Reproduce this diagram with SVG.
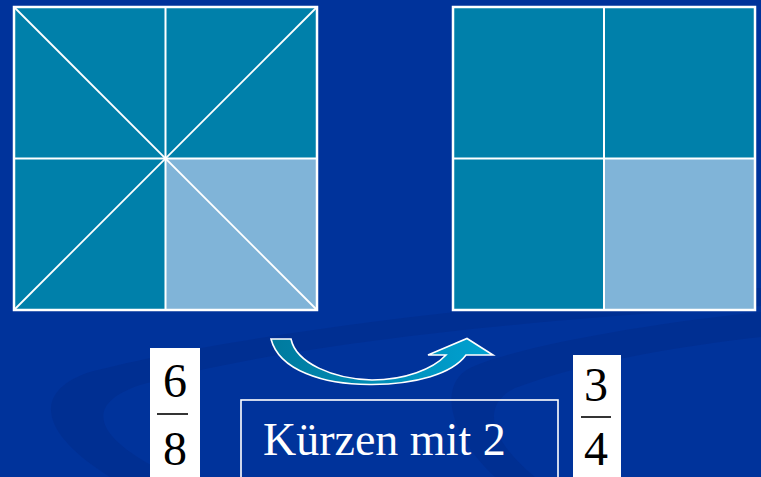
<svg xmlns="http://www.w3.org/2000/svg" width="761" height="477" viewBox="0 0 761 477">
  <style>
    .dark { fill: #0080aa; }
    .light { fill: #80b4d8; }
    .edge { fill: none; stroke: #ffffff; stroke-width: 2.5; }
    .grid { stroke: #ffffff; stroke-width: 2; fill: none; }
    .diag { stroke: #ffffff; stroke-width: 1.8; fill: none; }
    .frac { font-size: 48px; fill: #000000; text-anchor: middle; }
    .bar { stroke: #000000; stroke-width: 1.6; }
    .label { font-size: 46px; fill: #ffffff; }
    .swoosh { fill: #002a88; opacity: 0.45; }
  </style>
  <defs>
    <linearGradient id="arrowGrad" x1="0" y1="0" x2="1" y2="0">
      <stop offset="0" stop-color="#007a9e"/>
      <stop offset="1" stop-color="#00a2d2"/>
    </linearGradient>
  </defs>

  <rect x="0" y="0" width="761" height="477" fill="#00339b"/>

  <g id="background">
    <path class="swoosh" d="M761,288 C560,296 250,330 90,372 C35,390 35,430 110,477 L175,477 C95,440 80,405 140,385 C300,340 560,318 761,306 Z"/>
    <path class="swoosh" d="M761,312 C660,322 520,345 470,368 C440,383 445,430 495,477 L535,477 C490,440 480,405 515,388 C590,360 690,345 761,337 Z"/>
  </g>

  <g id="left-square">
    <rect class="dark" x="14" y="7" width="303" height="303"/>
    <rect class="light" x="165.5" y="158.5" width="151.5" height="151.5"/>
    <line class="diag" x1="14" y1="7" x2="317" y2="310"/>
    <line class="diag" x1="317" y1="7" x2="14" y2="310"/>
    <line class="grid" x1="165.5" y1="7" x2="165.5" y2="310"/>
    <line class="grid" x1="14" y1="158.5" x2="317" y2="158.5"/>
    <rect class="edge" x="14" y="7" width="303" height="303"/>
  </g>

  <g id="right-square">
    <rect class="dark" x="453" y="7" width="302" height="303"/>
    <rect class="light" x="604" y="158.5" width="151" height="151.5"/>
    <line class="grid" x1="604" y1="7" x2="604" y2="310"/>
    <line class="grid" x1="453" y1="158.5" x2="755" y2="158.5"/>
    <rect class="edge" x="453" y="7" width="302" height="303"/>
  </g>

  <g id="connectors">
    <path d="M271,339 L291,339 C296,363 333,379 372,380 C405,380 433,369 446,355 L428,355 L467,338.5 L493,355 L466,355 C452,374 416,384 372,384.5 C323,385 279,370 271,339 Z" fill="url(#arrowGrad)" stroke="#ffffff" stroke-width="1.6" stroke-linejoin="miter"/>
  </g>

  <g id="frac-6-8" font-family="Liberation Serif, DejaVu Serif, serif">
    <rect x="150" y="348" width="50" height="129" fill="#ffffff"/>
    <text class="frac" x="175" y="397">6</text>
    <line class="bar" x1="157" y1="414" x2="188" y2="414"/>
    <text class="frac" x="175" y="465">8</text>
  </g>

  <g id="frac-3-4" font-family="Liberation Serif, DejaVu Serif, serif">
    <rect x="573" y="355" width="48" height="122" fill="#ffffff"/>
    <text class="frac" x="596" y="401">3</text>
    <line class="bar" x1="581" y1="417" x2="611" y2="417"/>
    <text class="frac" x="596" y="465">4</text>
  </g>

  <g id="label-box" font-family="Liberation Serif, DejaVu Serif, serif">
    <rect x="241" y="400" width="317" height="90" fill="none" stroke="#ffffff" stroke-width="1.6"/>
    <text class="label" x="263" y="455">Kürzen mit 2</text>
  </g>
</svg>
